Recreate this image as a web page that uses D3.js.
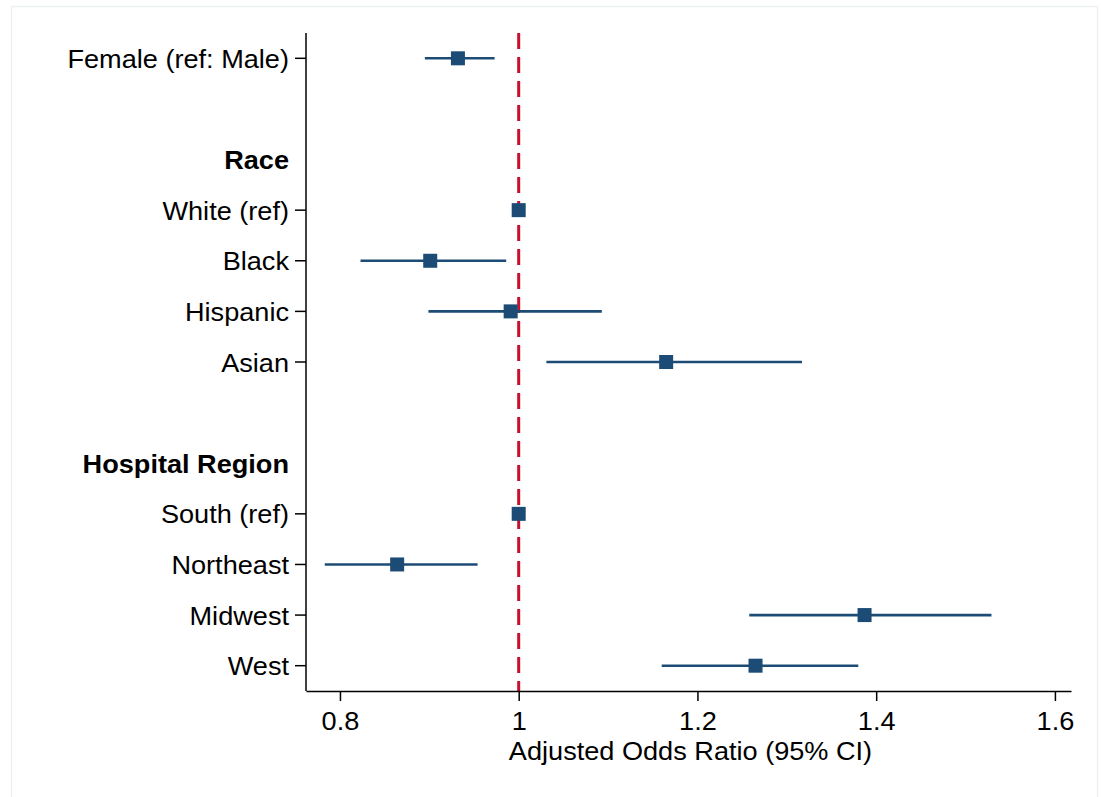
<!DOCTYPE html>
<html>
<head>
<meta charset="utf-8">
<script src="https://cdn.jsdelivr.net/npm/d3@7"></script>
<style>
  html, body { margin: 0; padding: 0; background: #fff; }
  svg text { font-family: 'Liberation Sans', Arial, Helvetica, sans-serif; fill: #000; }
</style>
</head>
<body>
<svg id="chart" width="1101" height="797"></svg>
<script>
// Rows top to bottom; '' = spacer row
const rowLabels = ['Female (ref: Male)', '', 'Race', 'White (ref)', 'Black', 'Hispanic', 'Asian',
                   '', 'Hospital Region', 'South (ref)', 'Northeast', 'Midwest', 'West'];
const headerRows = ['Race', 'Hospital Region'];

// Adjusted odds ratios + 95% CI (null = no estimate on that row)
const estimates = [0.932, null, null, 1.000, 0.901, 0.991, 1.165, null, null, 1.000, 0.864, 1.387, 1.265];
const ciLow     = [0.895, null, null, null,  0.823, 0.899, 1.031, null, null, null,  0.783, 1.258, 1.160];
const ciHigh    = [0.973, null, null, null,  0.986, 1.093, 1.317, null, null, null,  0.954, 1.529, 1.380];

const xTicks = [0.8, 1.0, 1.2, 1.4, 1.6];
const xTitle = 'Adjusted Odds Ratio (95% CI)';
const refValue = 1;

const FS = 25;
const STRETCH = 1.085;   // the source font runs wide
const BLUE = '#1c4b75', RED = '#c8102e';

const svg = d3.select('#chart');

// faint frame of the original export
svg.append('rect')
  .attr('x', 11.5).attr('y', 6.5).attr('width', 1086).attr('height', 820)
  .attr('fill', 'none').attr('stroke', '#eef1f1').attr('stroke-width', 1.5);

const plotL = 306, plotR = 1071, plotT = 33, plotB = 691;

const x = d3.scaleLinear().domain([0.762, 1.618]).range([plotL, plotR]);
const y = d3.scalePoint().domain(d3.range(rowLabels.length)).range([plotT, plotB]).padding(0.5);

const rows = rowLabels.map((label, i) => ({
  i, label, est: estimates[i], lo: ciLow[i], hi: ciHigh[i], header: headerRows.includes(label)
}));

// Reference line at OR = 1
svg.append('line')
  .attr('x1', x(refValue)).attr('x2', x(refValue))
  .attr('y1', plotT).attr('y2', plotB)
  .attr('stroke', RED).attr('stroke-width', 3)
  .attr('stroke-dasharray', '16 8');

// Axes
const xAxis = svg.append('g')
  .attr('transform', `translate(0,${plotB})`)
  .call(d3.axisBottom(x).tickValues(xTicks).tickSize(10).tickSizeOuter(0).tickFormat(d3.format('~g')));
xAxis.select('.domain').attr('stroke', '#000').attr('stroke-width', 1.5);
xAxis.selectAll('.tick line').attr('stroke', '#000').attr('stroke-width', 1.5);
xAxis.selectAll('.tick text')
  .attr('font-size', FS).attr('y', 0).attr('dy', 0)
  .attr('transform', `translate(0,38.5) scale(${STRETCH},1)`);

const yAxis = svg.append('g').attr('transform', `translate(${plotL},0)`);
yAxis.append('line')
  .attr('y1', plotT).attr('y2', plotB)
  .attr('stroke', '#000').attr('stroke-width', 1.5);

// row ticks (not on headers or spacers)
yAxis.selectAll('line.tick')
  .data(rows.filter(r => r.label && !r.header)).enter().append('line')
  .attr('class', 'tick')
  .attr('x1', -11).attr('x2', 0)
  .attr('y1', r => y(r.i)).attr('y2', r => y(r.i))
  .attr('stroke', '#000').attr('stroke-width', 1.5);

yAxis.selectAll('text')
  .data(rows.filter(r => r.label)).enter().append('text')
  .text(r => r.label)
  .attr('transform', r => `translate(-17,${y(r.i) + 9.5}) scale(${STRETCH},1)`)
  .attr('text-anchor', 'end')
  .attr('font-size', FS)
  .attr('font-weight', r => r.header ? 'bold' : 'normal');

// x axis title
svg.append('text')
  .text(xTitle)
  .attr('transform', `translate(${(plotL + plotR) / 2 + 2},${plotB + 69}) scale(${STRETCH},1)`)
  .attr('text-anchor', 'middle')
  .attr('font-size', FS);

// CI whiskers
svg.append('g').selectAll('line')
  .data(rows.filter(r => r.lo != null)).enter().append('line')
  .attr('x1', r => x(r.lo)).attr('x2', r => x(r.hi))
  .attr('y1', r => y(r.i)).attr('y2', r => y(r.i))
  .attr('stroke', BLUE).attr('stroke-width', 2.6);

// point estimates
const S = 14;
svg.append('g').selectAll('rect')
  .data(rows.filter(r => r.est != null)).enter().append('rect')
  .attr('x', r => x(r.est) - S / 2).attr('y', r => y(r.i) - S / 2)
  .attr('width', S).attr('height', S)
  .attr('fill', BLUE);
</script>
</body>
</html>
